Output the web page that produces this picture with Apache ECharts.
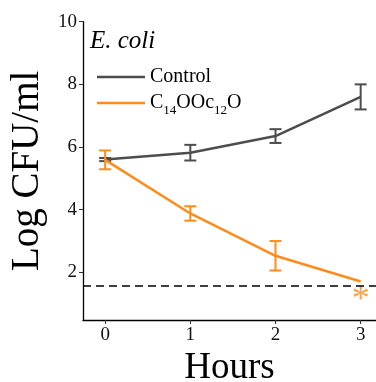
<!DOCTYPE html>
<html>
<head>
<meta charset="utf-8">
<script src="https://cdn.jsdelivr.net/npm/echarts@6/dist/echarts.min.js"></script>
<style>
  html, body { margin: 0; padding: 0; background: #fff; }
  #chart { width: 376px; height: 382px; }
</style>
</head>
<body>
<div id="chart"></div>
<script>
// hours after treatment
var hours = [0, 1, 2, 3];
var hourTicks = [0, 1, 2, 3];
var logTicks = [2, 4, 6, 8, 10];

// Control series (mean, +/- error)
var controlMean = [5.60, 5.82, 6.35, 7.60];
var controlErr = [0.05, 0.25, 0.22, 0.40];

// C14OOc12O series
var treatedMean = [5.59, 3.88, 2.53, 1.71];
var treatedErr = [0.30, 0.23, 0.47, 0];

var detectionLimit = 1.57;
var starPoint = [3, 1.31];

var FONT = "'Liberation Serif', 'Times New Roman', serif";
var GREY = '#4d4d4d';
var ORANGE = '#ff8c1a';

function pairs(xs, ys) {
    return xs.map(function (x, i) { return [x, ys[i]]; });
}

function errRows(xs, mean, err) {
    return xs.map(function (x, i) { return [x, mean[i] - err[i], mean[i] + err[i]]; });
}

function errorBars(color) {
    return function (params, api) {
        var x = api.value(0);
        if (api.value(2) - api.value(1) <= 0) return null;
        var lo = api.coord([x, api.value(1)]);
        var hi = api.coord([x, api.value(2)]);
        var cap = 6;
        var style = { stroke: color, lineWidth: 2 };
        return {
            type: 'group',
            children: [
                { type: 'line', shape: { x1: lo[0], y1: lo[1], x2: hi[0], y2: hi[1] }, style: style },
                { type: 'line', shape: { x1: lo[0] - cap, y1: lo[1], x2: lo[0] + cap, y2: lo[1] }, style: style },
                { type: 'line', shape: { x1: hi[0] - cap, y1: hi[1], x2: hi[0] + cap, y2: hi[1] }, style: style }
            ]
        };
    };
}

var chart = echarts.init(document.getElementById('chart'));

var option = {
    animation: false,
    textStyle: { fontFamily: FONT },
    grid: { left: 83, right: 0, top: 21.7, bottom: 62, outerBoundsMode: 'none', containLabel: false },
    title: {
        text: 'E. coli',
        left: 85,
        top: 24,
        textStyle: { fontFamily: FONT, fontStyle: 'italic', fontWeight: 'normal', fontSize: 25, color: '#000' }
    },
    legend: {
        orient: 'vertical',
        left: 92,
        top: 62,
        icon: 'rect',
        itemWidth: 48,
        itemHeight: 2.5,
        itemGap: 6,
        data: ['Control', 'C14OOc12O'],
        formatter: function (name) {
            if (name === 'Control') return '{a|Control}';
            return '{a|C}{s|14}{a|OOc}{s|12}{a|O}';
        },
        textStyle: {
            fontFamily: FONT,
            color: '#000',
            rich: {
                a: { fontFamily: FONT, fontSize: 20, color: '#000', verticalAlign: 'bottom' },
                s: { fontFamily: FONT, fontSize: 13, color: '#000', verticalAlign: 'bottom', padding: [0, 0, -4, 0] }
            }
        }
    },
    xAxis: {
        type: 'value',
        min: -0.26,
        max: 3.18,
        name: 'Hours',
        nameLocation: 'middle',
        nameGap: 30,
        nameTextStyle: { fontFamily: FONT, fontSize: 37, color: '#000' },
        axisLine: { show: true, onZero: false, lineStyle: { color: '#000', width: 1.3 } },
        axisTick: { show: true, length: 4, customValues: hourTicks, lineStyle: { color: '#333', width: 1 } },
        axisLabel: { customValues: hourTicks, fontFamily: FONT, fontSize: 19, color: '#111', margin: 6 },
        splitLine: { show: false }
    },
    yAxis: {
        type: 'value',
        min: 0.48,
        max: 10,
        name: 'Log CFU/ml',
        nameLocation: 'middle',
        nameGap: 26,
        nameTextStyle: { fontFamily: FONT, fontSize: 39, color: '#000' },
        axisLine: { show: true, onZero: false, lineStyle: { color: '#000', width: 1.3 } },
        axisTick: { show: true, length: 4, customValues: logTicks, lineStyle: { color: '#333', width: 1 } },
        axisLabel: { customValues: logTicks, fontFamily: FONT, fontSize: 19, color: '#111', margin: 6 },
        splitLine: { show: false }
    },
    series: [
        {
            name: 'Control',
            type: 'line',
            data: pairs(hours, controlMean),
            showSymbol: false,
            symbol: 'none',
            color: GREY,
            lineStyle: { color: GREY, width: 2.5 },
            z: 2
        },
        {
            type: 'custom',
            renderItem: errorBars(GREY),
            data: errRows(hours, controlMean, controlErr),
            z: 2
        },
        {
            name: 'C14OOc12O',
            type: 'line',
            data: pairs(hours, treatedMean),
            showSymbol: false,
            symbol: 'none',
            color: ORANGE,
            lineStyle: { color: ORANGE, width: 2.5 },
            z: 3,
            markLine: {
                silent: true,
                symbol: 'none',
                label: { show: false },
                lineStyle: { color: '#000', type: [8, 5], width: 1.6 },
                data: [{ yAxis: detectionLimit }]
            }
        },
        {
            type: 'custom',
            renderItem: errorBars(ORANGE),
            data: errRows(hours, treatedMean, treatedErr),
            z: 3
        },
        {
            type: 'scatter',
            data: [starPoint],
            symbolSize: 1,
            itemStyle: { color: 'rgba(0,0,0,0)' },
            label: {
                show: true,
                position: 'inside',
                formatter: '*',
                fontFamily: FONT,
                fontSize: 36,
                color: ORANGE,
                offset: [0, 7]
            },
            z: 4
        }
    ]
};

chart.setOption(option);
</script>
</body>
</html>
